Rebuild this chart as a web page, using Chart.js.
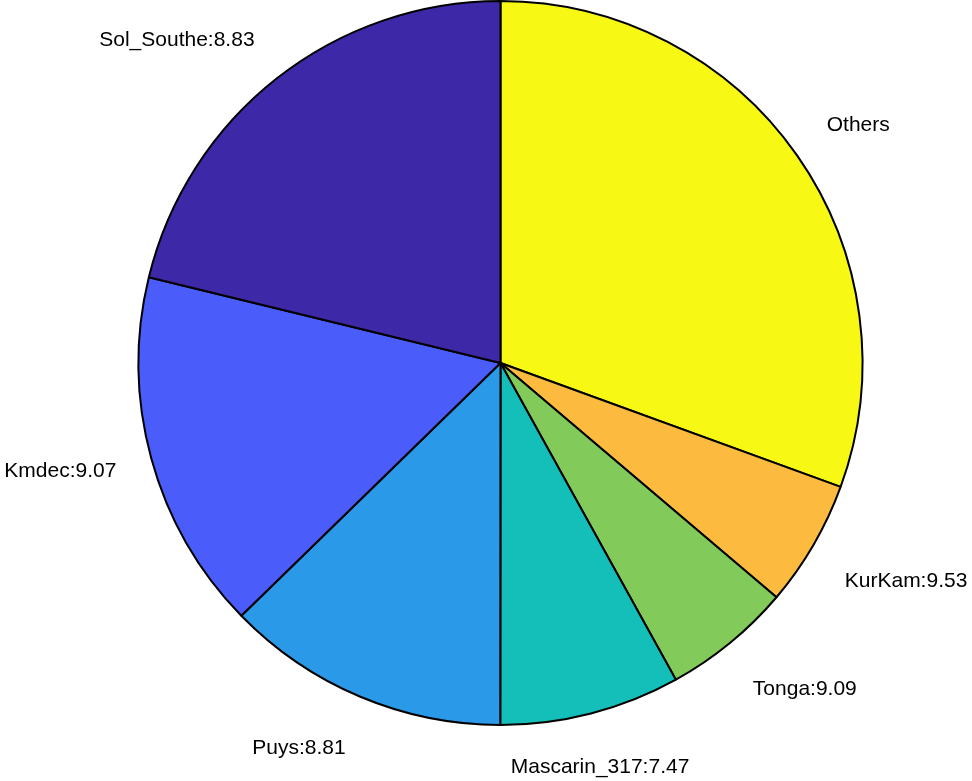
<!DOCTYPE html>
<html>
<head>
<meta charset="utf-8">
<script src="https://cdn.jsdelivr.net/npm/chart.js@4.4.0/dist/chart.umd.min.js"></script>
<style>
  html, body { margin: 0; padding: 0; background: #ffffff; }
  #pieChart { display: block; }
</style>
</head>
<body>
<canvas id="pieChart" width="972" height="781"></canvas>
<script>
// slices, clockwise from 12 o'clock (share of the pie, %)
const sliceNames = ['Others', 'KurKam', 'Tonga', 'Mascarin_317', 'Puys', 'Kmdec', 'Sol_Southe'];
const sliceShares = [30.56, 5.64, 5.75, 8.06, 12.69, 16.11, 21.19];
const sliceLabels = ['Others', 'KurKam:9.53', 'Tonga:9.09', 'Mascarin_317:7.47', 'Puys:8.81', 'Kmdec:9.07', 'Sol_Southe:8.83'];
const sliceColors = ['#F7F915', '#FCBA3E', '#82CB5A', '#15BFB9', '#2A99E8', '#4A5CF9', '#3D28A7'];

// labels outside the pie, matlab style
const outerLabels = {
    id: 'outerLabels',
    afterDraw(chart) {
        const ctx = chart.ctx;
        const arcs = chart.getDatasetMeta(0).data;
        ctx.save();
        ctx.font = '21px "Liberation Sans", Arial, sans-serif';
        ctx.fillStyle = '#000000';
        ctx.textBaseline = 'alphabetic';
        arcs.forEach(function(arc, i) {
            const mid = (arc.startAngle + arc.endAngle) / 2;
            const dx = Math.cos(mid);
            const dy = Math.sin(mid);
            const r = arc.outerRadius * 1.1;
            const x = arc.x + r * dx;
            const y = arc.y + r * dy;
            if (dx > 0.3) {
                ctx.textAlign = 'left';
            } else if (dx < -0.3) {
                ctx.textAlign = 'right';
            } else {
                ctx.textAlign = 'center';
            }
            let by;
            if (dy < -0.3) {
                by = y - 4;
            } else if (dy > 0.3) {
                by = y + 24;
            } else {
                by = y + 9.5;
            }
            ctx.fillText(sliceLabels[i], x, by);
        });
        ctx.restore();
    }
};

new Chart(document.getElementById('pieChart'), {
    type: 'pie',
    data: {
        labels: sliceNames,
        datasets: [{
            data: sliceShares,
            backgroundColor: sliceColors,
            borderColor: '#000000',
            borderWidth: 2,
            borderAlign: 'center'
        }]
    },
    options: {
        responsive: false,
        animation: false,
        rotation: 0,
        layout: {
            padding: { left: 137, right: 108, top: 0, bottom: 55 }
        },
        plugins: {
            legend: { display: false },
            tooltip: { enabled: false }
        }
    },
    plugins: [outerLabels]
});
</script>
</body>
</html>
